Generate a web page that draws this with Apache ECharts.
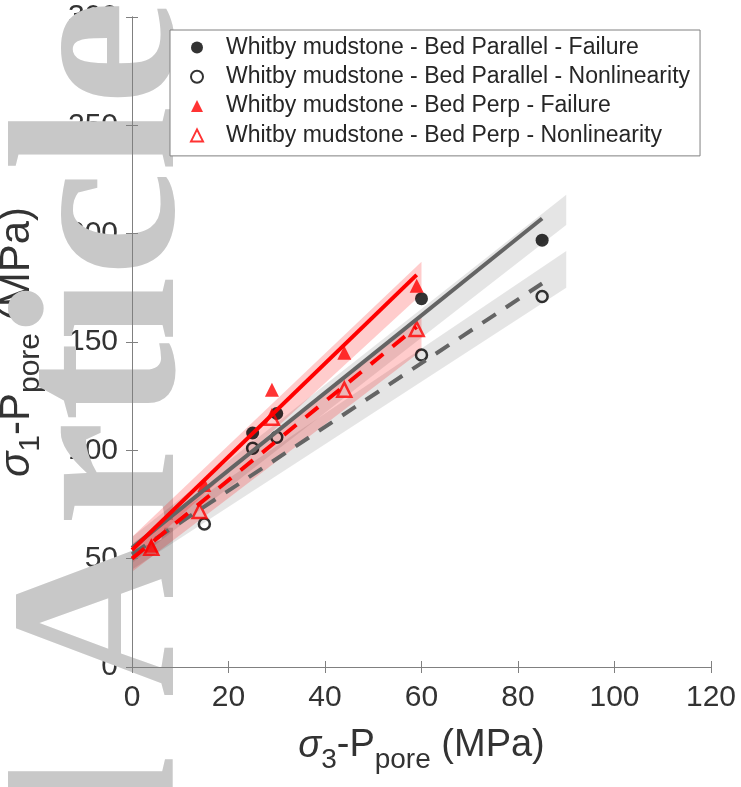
<!DOCTYPE html>
<html>
<head>
<meta charset="utf-8">
<script src="https://cdn.jsdelivr.net/npm/echarts@6/dist/echarts.min.js"></script>
<style>
html,body{margin:0;padding:0;background:#fff;}
#chart{width:741px;height:787px;}
</style>
</head>
<body>
<div id="chart"></div>
<script>
// ---- data ----
const seriesNames = [
  'Whitby mudstone - Bed Parallel - Failure',
  'Whitby mudstone - Bed Parallel - Nonlinearity',
  'Whitby mudstone - Bed Perp - Failure',
  'Whitby mudstone - Bed Perp - Nonlinearity'
];
const parFailX = [25, 30, 60, 85];
const parFailY = [108, 117, 170, 197];
const parNonX = [15, 25, 30, 60, 85];
const parNonY = [66, 101, 106, 144, 171];
const perpFailX = [4, 15, 29, 44, 59];
const perpFailY = [56, 84, 128, 145, 176];
const perpNonX = [4, 14, 29, 44, 59];
const perpNonY = [55, 72, 115, 128, 156];

// fitted lines
const parFitX = [0, 85];
const parFailFitY = [55, 207];
const parNonFitY = [52, 177];
const perpFitX = [0, 59];
const perpFailFitY = [54, 181];
const perpNonFitY = [50, 157];

// confidence bands
const parBandX = [0, 90];
const parFailBandLo = [48, 204];
const parFailBandHi = [60, 218];
const parNonBandLo = [45, 175];
const parNonBandHi = [57, 192];
const perpBandX = [0, 60];
const perpFailBandLo = [49, 172];
const perpFailBandHi = [60, 187];
const perpNonBandLo = [44, 146];
const perpNonBandHi = [56, 162];

const xTicks = [0, 20, 40, 60, 80, 100, 120];
const yTicks = [0, 50, 100, 150, 200, 250, 300];

// ---- helpers ----
function pts(xs, ys) { return xs.map((x, i) => [x, ys[i]]); }
function band(xs, lo, hi, fill) {
  return {
    type: 'custom', silent: true, data: [[xs[0], lo[0]]],
    renderItem: function (params, api) {
      const p = [];
      for (let i = 0; i < xs.length; i++) p.push(api.coord([xs[i], hi[i]]));
      for (let i = xs.length - 1; i >= 0; i--) p.push(api.coord([xs[i], lo[i]]));
      return { type: 'polygon', shape: { points: p }, style: { fill: fill } };
    }
  };
}
function fit(xs, ys, color, dashed) {
  return {
    type: 'line', silent: true, data: pts(xs, ys), showSymbol: false, symbol: 'none',
    lineStyle: { color: color, width: 4, type: dashed ? [16, 12] : 'solid' }
  };
}
const FONT = 'Liberation Sans';
const AX = '#808080';
const TXT = '#333';
const xMin = xTicks[0], xMax = xTicks[xTicks.length - 1], xInt = xTicks[1] - xTicks[0];
const yMin = yTicks[0], yMax = yTicks[yTicks.length - 1], yInt = yTicks[1] - yTicks[0];

const boxAxisX = (pos, z) => ({
  type: 'value', min: xMin, max: xMax, interval: xInt, position: pos, z: z,
  axisLine: { show: true, lineStyle: { color: AX, width: 1 } },
  axisTick: { show: true, inside: true, length: 6, lineStyle: { color: AX } },
  axisLabel: { show: false }, splitLine: { show: false }
});
const boxAxisY = (pos, z) => ({
  type: 'value', min: yMin, max: yMax, interval: yInt, position: pos, z: z,
  axisLine: { show: true, lineStyle: { color: AX, width: 1 } },
  axisTick: { show: true, inside: true, length: 6, lineStyle: { color: AX } },
  axisLabel: { show: false }, splitLine: { show: false }
});

const chart = echarts.init(document.getElementById('chart'));
const option = {
  backgroundColor: '#ffffff',
  animation: false,
  grid: { left: 132, right: 30, top: 17, bottom: 120, containLabel: false, outerBoundsMode: 'none' },
  xAxis: [
    {
      type: 'value', min: xMin, max: xMax, interval: xInt, position: 'bottom', z: 0,
      axisLine: { show: false }, axisTick: { show: false }, splitLine: { show: false },
      axisLabel: { fontSize: 30, color: TXT, fontFamily: FONT, margin: 16 },
      name: '{s|σ}{sub|3}{n|-P}{sub|pore}{n| (MPa)}',
      nameLocation: 'middle', nameGap: 51,
      nameTextStyle: {
        color: TXT,
        rich: {
          s: { fontSize: 38, fontStyle: 'italic', fontFamily: FONT, color: TXT },
          n: { fontSize: 38, fontFamily: FONT, color: TXT },
          sub: { fontSize: 28, fontFamily: FONT, color: TXT, padding: [28, 0, 0, 0] }
        }
      }
    },
    boxAxisX('top', 3),
    boxAxisX('bottom', 3)
  ],
  yAxis: [
    {
      type: 'value', min: yMin, max: yMax, interval: yInt, position: 'left', z: 0,
      axisLine: { show: false }, axisTick: { show: false }, splitLine: { show: false },
      axisLabel: { fontSize: 30, color: TXT, fontFamily: FONT, margin: 14 },
      name: '{s|σ}{sub|1}{n|-P}{sub|pore}{n| (MPa)}',
      nameLocation: 'middle', nameGap: 86,
      nameTextStyle: {
        color: TXT,
        rich: {
          s: { fontSize: 42, fontStyle: 'italic', fontFamily: FONT, color: TXT },
          n: { fontSize: 42, fontFamily: FONT, color: TXT },
          sub: { fontSize: 30, fontFamily: FONT, color: TXT, padding: [28, 0, 0, 0] }
        }
      }
    },
    boxAxisY('left', 3),
    boxAxisY('right', 3)
  ],
  legend: {
    orient: 'vertical', left: 170, top: 30,
    data: seriesNames,
    itemWidth: 12, itemHeight: 12, itemGap: 6.3,
    padding: [6, 10, 9, 20],
    borderColor: AX, borderWidth: 1, backgroundColor: '#ffffff',
    textStyle: { fontSize: 23, lineHeight: 22, fontFamily: FONT, color: '#262626', padding: [0, 0, 0, 18] }
  },
  graphic: {
    elements: [{
      type: 'text', x: 112, y: 0, rotation: Math.PI / 2, z: 1, silent: true,
      style: {
        text: 'Accepted Article', fontSize: 237, fontWeight: 'bold', fontFamily: 'Liberation Serif',
        fill: '#c8c8c8', align: 'right', verticalAlign: 'middle'
      }
    }]
  },
  series: [
    band(parBandX, parFailBandLo, parFailBandHi, 'rgba(0,0,0,0.1)'),
    band(parBandX, parNonBandLo, parNonBandHi, 'rgba(0,0,0,0.1)'),
    fit(parFitX, parFailFitY, '#646464', false),
    fit(parFitX, parNonFitY, '#646464', true),
    band(perpBandX, perpFailBandLo, perpFailBandHi, 'rgba(255,0,0,0.2)'),
    band(perpBandX, perpNonBandLo, perpNonBandHi, 'rgba(255,0,0,0.2)'),
    fit(perpFitX, perpFailFitY, '#ff0000', false),
    fit(perpFitX, perpNonFitY, '#ff0000', true),
    {
      name: seriesNames[0], type: 'scatter', data: pts(parFailX, parFailY),
      symbol: 'circle', symbolSize: 13, itemStyle: { color: '#000000' }
    },
    {
      name: seriesNames[1], type: 'scatter', data: pts(parNonX, parNonY),
      symbol: 'circle', symbolSize: 11,
      itemStyle: { color: 'rgba(255,255,255,0)', borderColor: '#000000', borderWidth: 2.5 }
    },
    {
      name: seriesNames[2], type: 'scatter', data: pts(perpFailX, perpFailY),
      symbol: 'triangle', symbolSize: 14, itemStyle: { color: '#ff0000' }
    },
    {
      name: seriesNames[3], type: 'scatter', data: pts(perpNonX, perpNonY),
      symbol: 'triangle', symbolSize: 14,
      itemStyle: { color: 'rgba(255,255,255,0)', borderColor: '#ff0000', borderWidth: 2.5 }
    }
  ]
};
chart.setOption(option);
</script>
</body>
</html>
